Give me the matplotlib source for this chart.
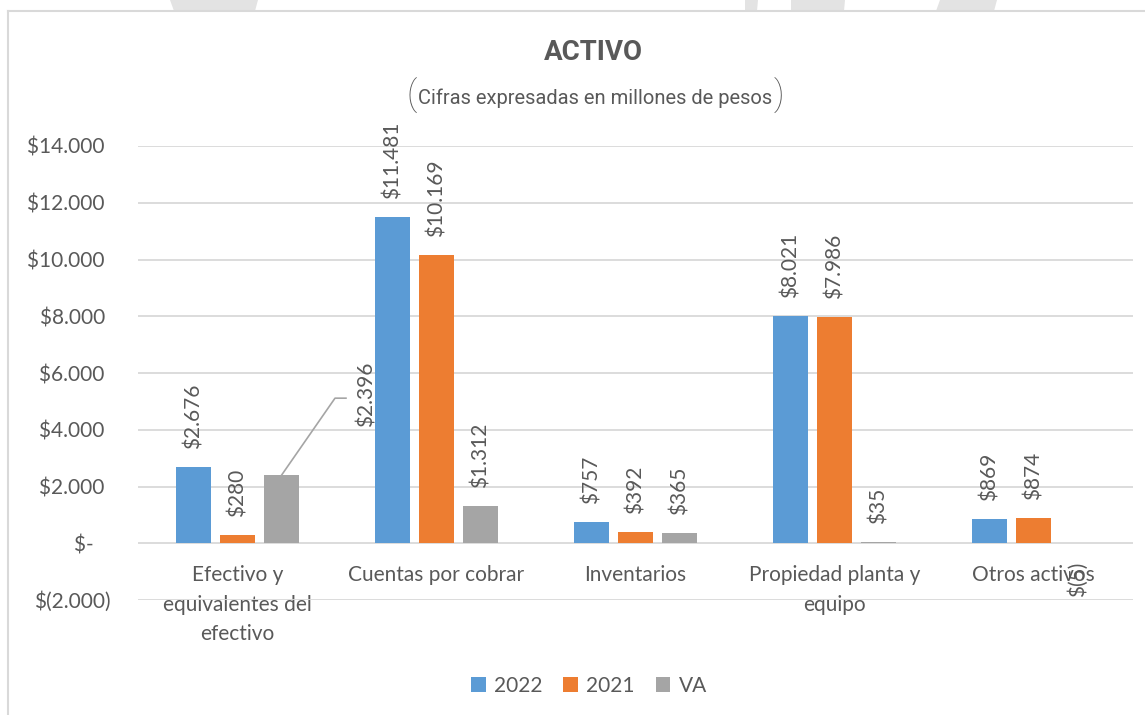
import numpy as np
import matplotlib
matplotlib.use("Agg")
import matplotlib.pyplot as plt
from matplotlib.patches import Polygon
from matplotlib.lines import Line2D

plt.rcParams['font.family'] = ['Lato', 'DejaVu Sans']

categories = ["Efectivo y\nequivalentes del\nefectivo", "Cuentas por cobrar", "Inventarios",
              "Propiedad planta y\nequipo", "Otros activos"]
series_names = ["2022", "2021", "VA"]
v2022 = [2676, 11481, 757, 8021, 869]
v2021 = [280, 10169, 392, 7986, 874]
va = [2396, 1312, 365, 35, -5]
yticks = [-2000, 0, 2000, 4000, 6000, 8000, 10000, 12000, 14000]

colors = ["#5B9BD5", "#ED7D31", "#A5A5A5"]
txt = "#595959"
grid = "#D9D9D9"


def money(v):
    if v < 0:
        return "$({:,})".format(-v).replace(",", ".")
    if v == 0:
        return "$-"
    return "${:,}".format(v).replace(",", ".")


def tick_fmt(v):
    if v < 0:
        return money(int(v))
    if v == 0:
        return "$-   "
    return money(int(v)) + " "


fig = plt.figure(figsize=(11.45, 7.15), dpi=100)
W, H = 1145, 715

# faint watermark shapes above the chart frame
bg = fig.add_axes([0, 0, 1, 1], zorder=-5)
bg.set_xlim(0, W)
bg.set_ylim(H, 0)
bg.axis("off")
for pts in [[(170, 0), (258, 0), (255, 11), (174, 11)],
            [(745, 0), (758, 0), (757, 11), (745, 11)],
            [(791, 0), (845, 0), (844, 11), (791, 11)],
            [(940, 0), (997, 0), (994, 11), (936, 11)]]:
    bg.add_patch(Polygon(pts, closed=True, color="#E3E3E3", lw=0))
bg.add_line(Line2D([8, 8], [H, 11], color=grid, lw=1.5))
bg.add_line(Line2D([8, W], [11, 11], color=grid, lw=1.5))

ax = fig.add_axes([138 / W, 1 - 600 / H, (1133 - 138) / W, (600 - 146) / H])
x = np.arange(len(categories))
step, bw = 0.221, 0.176
data = [v2022, v2021, va]
bars = []
for j, vals in enumerate(data):
    b = ax.bar(x + (j - 1) * step, vals, bw, color=colors[j], label=series_names[j], zorder=3)
    bars.append(b)

ax.set_ylim(-2000, 14000)
ax.set_xlim(-0.5, len(categories) - 0.5)
ax.set_yticks(yticks)
ax.set_yticklabels([tick_fmt(v) for v in yticks])
ax.yaxis.grid(True, color=grid, lw=1.3, zorder=0)
for s in ax.spines.values():
    s.set_visible(False)
ax.spines['bottom'].set_position(('data', 0))
ax.set_xticks(x)
ax.set_xticklabels(categories, linespacing=1.58)
ax.tick_params(axis='x', length=0, pad=16, labelsize=15, labelcolor=txt)
ax.tick_params(axis='y', length=0, pad=20, labelsize=15, labelcolor=txt)

# data labels
for j, vals in enumerate(data):
    for i, v in enumerate(vals):
        xc = i + (j - 1) * step
        if j == 2 and i == 0:
            # moved label with leader line
            ax.plot([xc, 0.49, 0.545], [v, 5113, 5113], color="#A5A5A5", lw=1.2, zorder=4)
            ax.text(0.65, 4090, money(v), rotation=90, ha="center", va="bottom",
                    fontsize=15, color=txt, zorder=5)
            continue
        off = 13 if v >= 0 else -13
        ax.annotate(money(v), (xc, max(v, 0) if v >= 0 else v), xytext=(0, off),
                    textcoords="offset points", rotation=90, ha="center",
                    va="bottom" if v >= 0 else "top", fontsize=15, color=txt, zorder=5)

# title and subtitle
narrow = ['Roboto', 'DejaVu Sans']
fig.text(593 / W, 1 - 52 / H, "ACTIVO", ha="center", va="center", fontsize=20,
         fontweight="bold", color=txt, family=narrow)
sub = fig.text(595 / W, 1 - 98 / H, "Cifras expresadas en millones de pesos", ha="center",
               va="center", fontsize=14.5, color=txt, family=narrow)
fig.canvas.draw()
bb = sub.get_window_extent()
fig.text((bb.x0 - 1) / W, 1 - 96 / H, "(", ha="right", va="center", fontsize=25,
         color=txt, family=narrow, fontweight="light")
fig.text((bb.x1 + 1) / W, 1 - 96 / H, ")", ha="left", va="center", fontsize=25,
         color=txt, family=narrow, fontweight="light")

fig.legend(handles=bars, labels=series_names, loc="center", bbox_to_anchor=(589 / W, 1 - 686 / H),
           ncol=3, frameon=False, fontsize=15, labelcolor=txt, handlelength=0.7,
           handleheight=0.7, handletextpad=0.4, columnspacing=1.0)

fig.savefig("out.png", dpi=100)
